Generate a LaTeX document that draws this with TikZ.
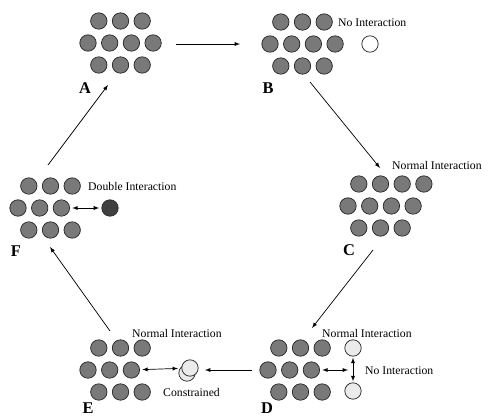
\documentclass[tikz,border=0pt]{standalone}
\usepackage{fontspec}
\setmainfont{Liberation Serif}
\usepackage{tikz}

% one cluster: name, x and y of the left ball of the middle row, balls per row
\newcommand{\cluster}[6]{%
  \foreach \i in {1,...,#4}
    \node[ball] (#1t\i) at ({#2+10.8+(\i-1)*21.7},{#3-22}) {};
  \foreach \i in {1,...,#5}
    \node[ball] (#1m\i) at ({#2+(\i-1)*21.7},#3) {};
  \foreach \i in {1,...,#6}
    \node[ball] (#1b\i) at ({#2+10.8+(\i-1)*21.7},{#3+22}) {};
}

\begin{document}
\begin{tikzpicture}[x=0.03cm,y=-0.03cm,
    ball/.style={circle,draw=black!85,line width=0.6pt,fill=gray!95!black,
      inner sep=0pt,minimum size=14pt},
    lightball/.style={ball,fill=black!8},
    darkball/.style={ball,fill=black!75},
    whiteball/.style={ball,fill=white},
    stagelabel/.style={font=\fontsize{14}{14}\selectfont\bfseries},
    note/.style={font=\fontsize{10}{11}\selectfont,anchor=west,inner sep=0pt},
    flow/.style={-latex,line width=0.6pt},
    pair/.style={latex-latex,line width=0.6pt}]
    \useasboundingbox (0,0) rectangle (492,420);

    \cluster{A}{88}{43}{3}{4}{3}
    \cluster{B}{270}{44}{3}{4}{3}
    \cluster{C}{348}{206}{4}{4}{3}
    \cluster{D}{268}{370}{3}{3}{3}
    \cluster{E}{88}{370}{3}{3}{3}
    \cluster{F}{18}{208}{3}{3}{3}

    \node[stagelabel] (lA) at (85,88) {A};
    \node[stagelabel] (lB) at (268,88) {B};
    \node[stagelabel] (lC) at (349,250) {C};
    \node[stagelabel] (lD) at (267,408) {D};
    \node[stagelabel] (lE) at (88,408) {E};
    \node[stagelabel] (lF) at (16,251) {F};

    % extra balls
    \node[whiteball] (Bx) at (370,44) {};
    \node[darkball] (Fx) at (110,208) {};
    \node[lightball] (Dx1) at (353,348) {};
    \node[lightball] (Dx2) at (353,391) {};
    \node[lightball] (Ex2) at (187,373) {};
    \node[lightball] (Ex) at (190,368) {};
    \coordinate (Dmid) at (348,370);

    \node[note] (nB) at (338,23) {No Interaction};
    \node[note] (nC) at (392,165) {Normal Interaction};
    \node[note] (nF) at (88,186) {Double Interaction};
    \node[note] (nD) at (322,333) {Normal Interaction};
    \node[note] (nD2) at (365,371) {No Interaction};
    \node[note] (nE) at (132,333) {Normal Interaction};
    \node[note] (nE2) at (163,392) {Constrained};

    % the cycle
    \coordinate (ab1) at (176,44);  \coordinate (ab2) at (240,44);
    \coordinate (bc1) at (310,82);  \coordinate (bc2) at (380,168);
    \coordinate (cd1) at (373,250); \coordinate (cd2) at (312,328);
    \coordinate (de1) at (252,370); \coordinate (de2) at (205,370);
    \coordinate (ef1) at (110,331); \coordinate (ef2) at (50,247);
    \coordinate (fa1) at (48,165);  \coordinate (fa2) at (108,85);
    \draw[flow] (ab1) -- (ab2);
    \draw[flow] (bc1) -- (bc2);
    \draw[flow] (cd1) -- (cd2);
    \draw[flow] (de1) -- (de2);
    \draw[flow] (ef1) -- (ef2);
    \draw[flow] (fa1) -- (fa2);

    % interactions
    \draw[pair,shorten <=2pt,shorten >=2pt] (Fm3) -- (Fx);
    \draw[pair,shorten <=2pt] (Dm3) -- (Dmid);
    \draw[pair,shorten <=1pt,shorten >=1pt] (Dx1) -- (Dx2);
    \draw[pair,shorten <=2pt,shorten >=3pt] (Em3) -- (Ex);
\end{tikzpicture}
\end{document}
